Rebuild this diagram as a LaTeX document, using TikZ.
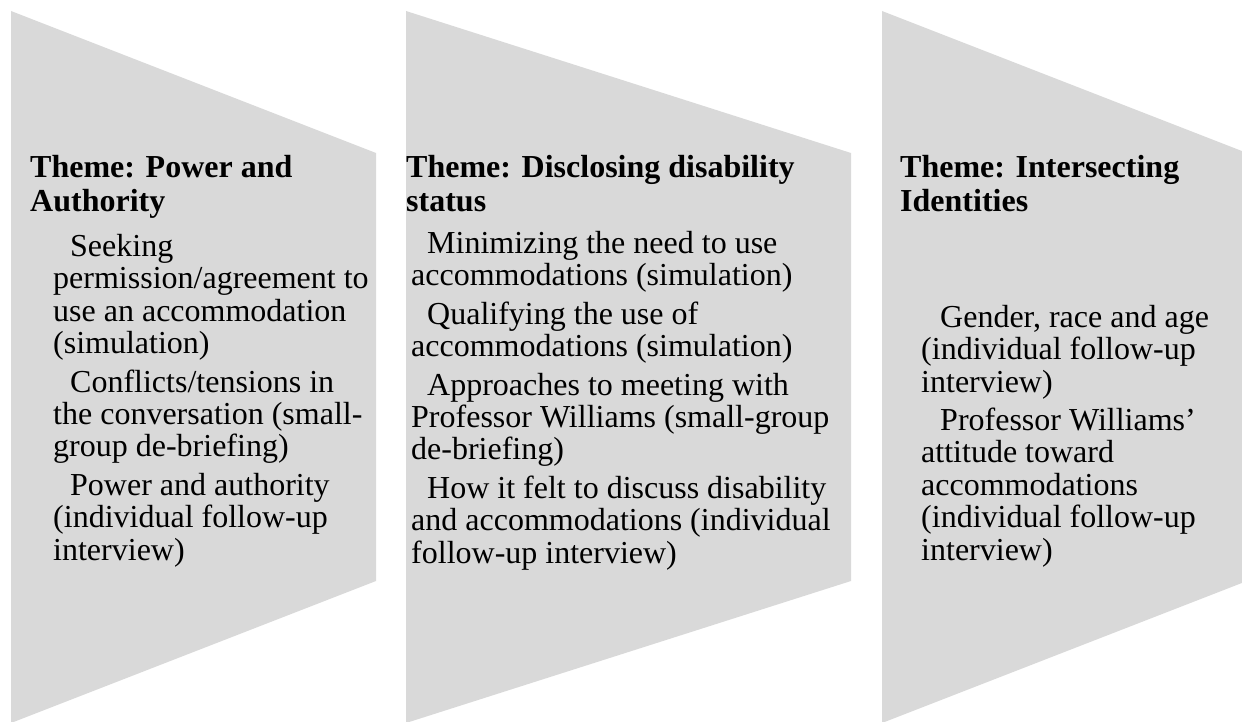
\documentclass[tikz,border=0pt]{standalone}
\usepackage{fontspec}
\setmainfont{Liberation Serif}
\newcommand{\tightls}{\lineskiplimit=-100pt\relax}
\begin{document}
\begin{tikzpicture}[x=1pt,y=-1pt,
  chev/.style={fill=chevgray,draw=none},
  ttl/.style={anchor=base west,inner sep=0pt,align=left,font={\fontsize{32}{33.5}\selectfont\tightls\bfseries}},
  bdy/.style={anchor=base west,inner sep=0pt,align=left,font={\fontsize{32}{32.4}\selectfont\tightls}}]
\definecolor{chevgray}{HTML}{D9D9D9}
\useasboundingbox (0,0) rectangle (1242,722);
\clip (0,0) rectangle (1242,722);
\path[chev] (11,11) -- (376,153) -- (376,581) -- (11,723) -- cycle;
\path[chev] (406,11) -- (851,153) -- (851,581) -- (406,723) -- cycle;
\path[chev] (882,11) -- (1247,153) -- (1247,581) -- (882,723) -- cycle;
% shape 1 (anchor = baseline of the last line)
\node[ttl] (t1) at (30,211.5) {Theme: Power and\\Authority};
\node[bdy] (b1) at (53,560) {\hspace*{17pt}Seeking\\permission/agreement to\\use an accommodation\\(simulation)\\[6pt]\hspace*{17pt}Conflicts/tensions in\\the conversation (small-\\group de-briefing)\\[6pt]\hspace*{17pt}Power and authority\\(individual follow-up\\interview)};
% shape 2
\node[ttl] (t2) at (406,211.5) {Theme: Disclosing disability\\status};
\node[bdy] (b2) at (411,563) {\hspace*{16pt}Minimizing the need to use\\accommodations (simulation)\\[6pt]\hspace*{16pt}Qualifying the use of\\accommodations (simulation)\\[6pt]\hspace*{16pt}Approaches to meeting with\\Professor Williams (small-group\\de-briefing)\\[6pt]\hspace*{16pt}How it felt to discuss disability\\and accommodations (individual\\follow-up interview)};
% shape 3
\node[ttl] (t3) at (900,211.5) {Theme: Intersecting\\Identities};
\node[bdy] (b3) at (921,560) {\hspace*{19pt}Gender, race and age\\(individual follow-up\\interview)\\[6pt]\hspace*{19pt}Professor Williams'\\attitude toward\\accommodations\\(individual follow-up\\interview)};
\end{tikzpicture}
\end{document}
